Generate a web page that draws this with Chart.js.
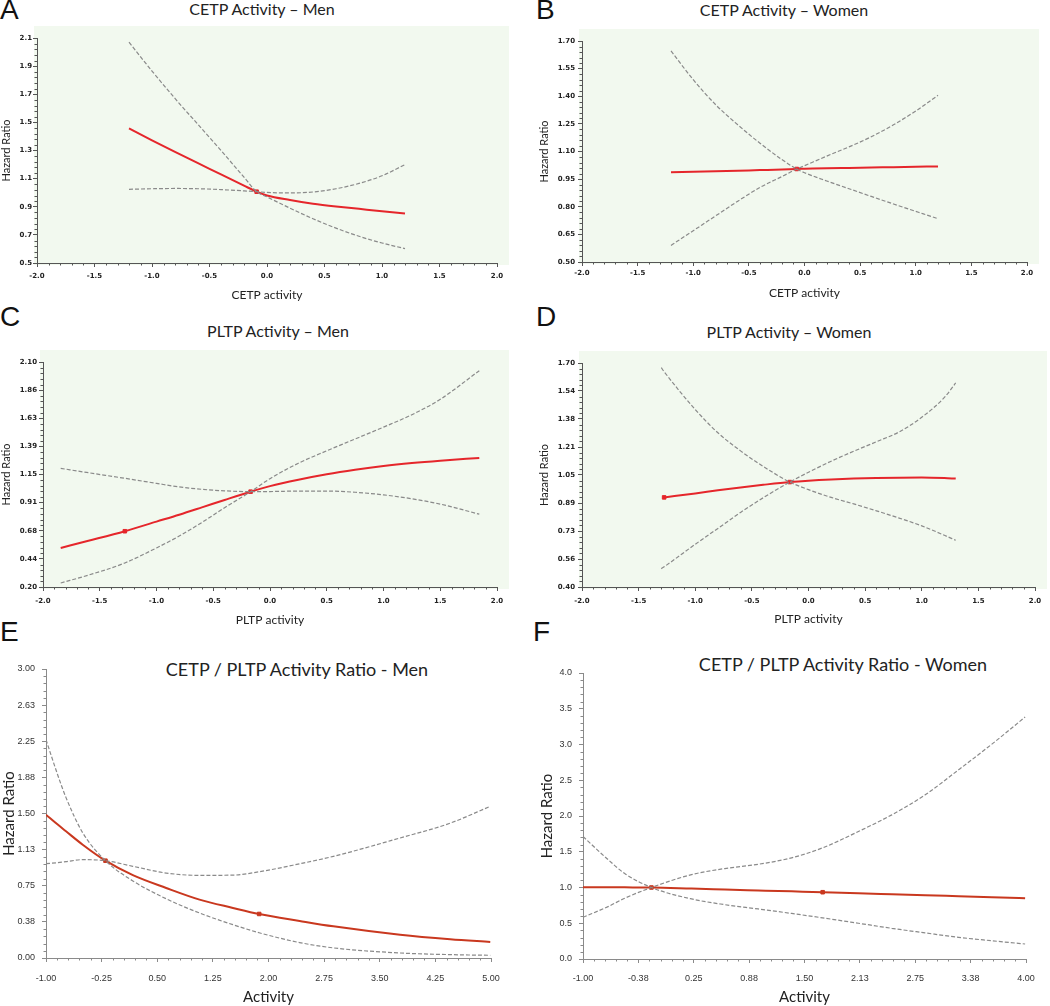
<!DOCTYPE html>
<html lang="en">
<head>
<meta charset="UTF-8">
<title>CETP / PLTP activity and hazard ratio</title>
<script src="https://cdn.jsdelivr.net/npm/chart.js"></script>
<style>
  body { margin: 0; background: #fff; width: 1050px; height: 1006px; position: relative; overflow: hidden; }
  canvas { position: absolute; }
  .letter { position: absolute; font-family: "Liberation Sans", Arial, sans-serif; font-size: 28px; line-height: 1; color: #111; }
  .title { position: absolute; transform: translateX(-50%); white-space: nowrap; font-family: Lato, "Open Sans", sans-serif; line-height: 1; color: #222; }
</style>
</head>
<body>

<div class="letter" style="left:0px;top:-4px">A</div>
<div class="letter" style="left:536px;top:-4px">B</div>
<div class="letter" style="left:0px;top:303px">C</div>
<div class="letter" style="left:536px;top:303px">D</div>
<div class="letter" style="left:0px;top:618px">E</div>
<div class="letter" style="left:533px;top:618px">F</div>

<div class="title" style="left:262px;top:1px;font-size:16px">CETP Activity – Men</div>
<div class="title" style="left:784px;top:2px;font-size:16px">CETP Activity – Women</div>
<div class="title" style="left:278px;top:323px;font-size:16px">PLTP Activity – Men</div>
<div class="title" style="left:789px;top:324px;font-size:16px">PLTP Activity – Women</div>
<div class="title" style="left:297px;top:660px;font-size:18px">CETP / PLTP Activity Ratio - Men</div>
<div class="title" style="left:843px;top:655px;font-size:18px">CETP / PLTP Activity Ratio - Women</div>

<canvas id="chartA" width="525" height="310" style="left:0px;top:0px"></canvas>
<canvas id="chartB" width="525" height="310" style="left:525px;top:0px"></canvas>
<canvas id="chartC" width="525" height="320" style="left:0px;top:310px"></canvas>
<canvas id="chartD" width="525" height="320" style="left:525px;top:310px"></canvas>
<canvas id="chartE" width="525" height="376" style="left:0px;top:630px"></canvas>
<canvas id="chartF" width="525" height="376" style="left:525px;top:630px"></canvas>

<script>
// ---- A: CETP activity, men ----
var aX     = [-1.2, -1.0, -0.8, -0.6, -0.4, -0.2, -0.09, 0.0, 0.2, 0.4, 0.6, 0.8, 1.0, 1.2];
var aHR    = [1.457, 1.372, 1.29, 1.21, 1.13, 1.05, 1.007, 0.98, 0.948, 0.922, 0.902, 0.885, 0.868, 0.852];
var aCI1   = [2.07, 1.865, 1.67, 1.485, 1.30, 1.11, 1.007, 0.97, 0.89, 0.815, 0.748, 0.69, 0.642, 0.602];
var aCI2   = [1.024, 1.028, 1.03, 1.028, 1.022, 1.013, 1.007, 1.002, 0.998, 1.005, 1.028, 1.066, 1.12, 1.20];
var aRefX  = [-0.09];
var aRefY  = [1.007];
var aXTicks = [-2, -1.5, -1, -0.5, 0, 0.5, 1, 1.5, 2];
var aXLabels = ['-2.0', '-1.5', '-1.0', '-0.5', '0.0', '0.5', '1.0', '1.5', '2.0'];
var aYTicks = [0.5, 0.7, 0.9, 1.1, 1.3, 1.5, 1.7, 1.9, 2.1];
var aYLabels = ['0.5', '0.7', '0.9', '1.1', '1.3', '1.5', '1.7', '1.9', '2.1'];

// ---- B: CETP activity, women ----
var bX     = [-1.2, -1.0, -0.8, -0.6, -0.4, -0.2, -0.07, 0.0, 0.2, 0.4, 0.6, 0.8, 1.0, 1.2];
var bHR    = [0.987, 0.99, 0.993, 0.996, 0.999, 1.002, 1.005, 1.006, 1.009, 1.011, 1.013, 1.015, 1.017, 1.019];
var bCI1   = [1.646, 1.49, 1.355, 1.245, 1.145, 1.055, 1.005, 0.985, 0.94, 0.898, 0.856, 0.815, 0.775, 0.735];
var bCI2   = [0.59, 0.67, 0.75, 0.83, 0.905, 0.965, 1.005, 1.023, 1.075, 1.125, 1.18, 1.245, 1.32, 1.405];
var bRefX  = [-0.07];
var bRefY  = [1.005];
var bXTicks = [-2, -1.5, -1, -0.5, 0, 0.5, 1, 1.5, 2];
var bXLabels = ['-2.0', '-1.5', '-1.0', '-0.5', '0.0', '0.5', '1.0', '1.5', '2.0'];
var bYTicks = [0.5, 0.65, 0.8, 0.95, 1.1, 1.25, 1.4, 1.55, 1.7];
var bYLabels = ['0.50', '0.65', '0.80', '0.95', '1.10', '1.25', '1.40', '1.55', '1.70'];

// ---- C: PLTP activity, men ----
var cX     = [-1.844, -1.6, -1.279, -1.0, -0.8, -0.6, -0.4, -0.171, 0.0, 0.25, 0.5, 0.75, 1.0, 1.25, 1.5, 1.844];
var cHR    = [0.53, 0.59, 0.671, 0.752, 0.81, 0.872, 0.935, 1.005, 1.052, 1.106, 1.152, 1.19, 1.222, 1.247, 1.267, 1.29];
var cCI1   = [0.234, 0.30, 0.403, 0.53, 0.63, 0.745, 0.87, 1.005, 1.115, 1.245, 1.35, 1.45, 1.55, 1.655, 1.785, 2.027];
var cCI2   = [1.202, 1.165, 1.118, 1.075, 1.045, 1.025, 1.012, 1.005, 1.006, 1.01, 1.01, 1.0, 0.978, 0.945, 0.90, 0.815];
var cRefX  = [-1.279, -0.171];
var cRefY  = [0.671, 1.005];
var cXTicks = [-2, -1.5, -1, -0.5, 0, 0.5, 1, 1.5, 2];
var cXLabels = ['-2.0', '-1.5', '-1.0', '-0.5', '0.0', '0.5', '1.0', '1.5', '2.0'];
var cYTicks = [0.2, 0.4375, 0.675, 0.9125, 1.15, 1.3875, 1.625, 1.8625, 2.1];
var cYLabels = ['0.20', '0.44', '0.68', '0.91', '1.15', '1.39', '1.63', '1.86', '2.10'];

// ---- D: PLTP activity, women ----
var dX     = [-1.3, -1.275, -1.0, -0.8, -0.6, -0.4, -0.165, 0.0, 0.2, 0.4, 0.6, 0.8, 1.0, 1.2, 1.3];
var dHR    = [null, 0.92, 0.943, 0.961, 0.978, 0.993, 1.009, 1.017, 1.024, 1.029, 1.032, 1.034, 1.035, 1.032, 1.029];
var dCI1   = [1.673, 1.65, 1.43, 1.295, 1.19, 1.10, 1.009, 0.965, 0.92, 0.882, 0.842, 0.80, 0.755, 0.70, 0.671];
var dCI2   = [0.506, 0.517, 0.648, 0.74, 0.833, 0.918, 1.009, 1.066, 1.13, 1.188, 1.243, 1.30, 1.385, 1.50, 1.584];
var dRefX  = [-1.275, -0.165];
var dRefY  = [0.92, 1.009];
var dXTicks = [-2, -1.5, -1, -0.5, 0, 0.5, 1, 1.5, 2];
var dXLabels = ['-2.0', '-1.5', '-1.0', '-0.5', '0.0', '0.5', '1.0', '1.5', '2.0'];
var dYTicks = [0.4, 0.5625, 0.725, 0.8875, 1.05, 1.2125, 1.375, 1.5375, 1.7];
var dYLabels = ['0.40', '0.56', '0.73', '0.89', '1.05', '1.21', '1.38', '1.54', '1.70'];

// ---- E: CETP / PLTP activity ratio, men ----
var eX     = [-1.0, -0.842, -0.73, -0.505, -0.198, 0.171, 0.62, 1.07, 1.52, 1.874, 2.42, 2.874, 3.775, 4.45, 4.99];
var eHR    = [1.488, 1.385, 1.315, 1.176, 1.01, 0.86, 0.727, 0.606, 0.52, 0.457, 0.385, 0.329, 0.242, 0.195, 0.166];
var eCI1   = [2.266, 1.90, 1.665, 1.30, 1.01, 0.80, 0.615, 0.467, 0.346, 0.262, 0.16, 0.105, 0.052, 0.035, 0.028];
var eCI2   = [0.979, 0.99, 1.0, 1.021, 1.01, 0.952, 0.882, 0.858, 0.86, 0.895, 0.978, 1.055, 1.246, 1.40, 1.574];
var eRefX  = [-0.198, 1.874];
var eRefY  = [1.01, 0.457];
var eXTicks = [-1, -0.25, 0.5, 1.25, 2, 2.75, 3.5, 4.25, 5];
var eXLabels = ['-1.00', '-0.25', '0.50', '1.25', '2.00', '2.75', '3.50', '4.25', '5.00'];
var eYTicks = [0, 0.375, 0.75, 1.125, 1.5, 1.875, 2.25, 2.625, 3];
var eYLabels = ['0.00', '0.38', '0.75', '1.13', '1.50', '1.88', '2.25', '2.63', '3.00'];

// ---- F: CETP / PLTP activity ratio, women ----
var fX     = [-1.0, -0.717, -0.529, -0.228, 0.225, 0.601, 0.978, 1.355, 1.705, 2.108, 2.485, 2.862, 3.239, 3.615, 3.99];
var fHR    = [1.004, 1.003, 1.002, 1.0, 0.985, 0.972, 0.959, 0.946, 0.934, 0.92, 0.906, 0.892, 0.878, 0.864, 0.85];
var fCI1   = [1.713, 1.39, 1.195, 1.0, 0.84, 0.76, 0.70, 0.637, 0.575, 0.5, 0.429, 0.365, 0.303, 0.255, 0.21];
var fCI2   = [0.583, 0.733, 0.85, 1.0, 1.18, 1.265, 1.325, 1.415, 1.555, 1.783, 2.016, 2.296, 2.646, 3.005, 3.384];
var fRefX  = [-0.228, 1.705];
var fRefY  = [1.0, 0.934];
var fXTicks = [-1, -0.375, 0.25, 0.875, 1.5, 2.125, 2.75, 3.375, 4];
var fXLabels = ['-1.00', '-0.38', '0.25', '0.88', '1.50', '2.13', '2.75', '3.38', '4.00'];
var fYTicks = [0, 0.5, 1, 1.5, 2, 2.5, 3, 3.5, 4];
var fYLabels = ['0.0', '0.5', '1.0', '1.5', '2.0', '2.5', '3.0', '3.5', '4.0'];

// light green plot background (panels A-D)
var plotBg = {
    id: 'plotBg',
    beforeDraw: function (chart, args, opts) {
        if (!opts.color) return;
        var a = chart.chartArea, ctx = chart.ctx;
        ctx.save();
        ctx.fillStyle = opts.color;
        ctx.fillRect(a.left - 3, a.top - 12, a.right - a.left + 15, a.bottom - a.top + 14);
        ctx.restore();
    }
};

// small minor tick marks between the major ticks
var minorTicks = {
    id: 'minorTicks',
    afterDraw: function (chart, args, opts) {
        var ctx = chart.ctx;
        ctx.save();
        ctx.strokeStyle = opts.color;
        ctx.lineWidth = 1;
        ['x', 'y'].forEach(function (id) {
            var s = chart.scales[id];
            var vals = s.ticks.map(function (t) { return t.value; });
            for (var i = 0; i < vals.length - 1; i++) {
                var step = (vals[i + 1] - vals[i]) / opts.sub;
                for (var k = 1; k < opts.sub; k++) {
                    var p = Math.round(s.getPixelForValue(vals[i] + k * step)) + 0.5;
                    ctx.beginPath();
                    if (id === 'x') { ctx.moveTo(p, s.top); ctx.lineTo(p, s.top + 2.5); }
                    else { ctx.moveTo(s.right, p); ctx.lineTo(s.right - 2.5, p); }
                    ctx.stroke();
                }
            }
        });
        ctx.restore();
    }
};

function pts(xs, ys) {
    return xs.map(function (x, i) { return { x: x, y: ys[i] }; });
}

function makePanel(id, p) {
    var ciColor = '#8a8a8a';
    new Chart(document.getElementById(id), {
        type: 'line',
        plugins: [plotBg, minorTicks],
        data: {
            datasets: [
                { data: pts(p.x, p.ci1), borderColor: ciColor, borderWidth: 1.2, borderDash: [4, 2], pointRadius: 0, cubicInterpolationMode: 'monotone' },
                { data: pts(p.x, p.ci2), borderColor: ciColor, borderWidth: 1.2, borderDash: [4, 2], pointRadius: 0, cubicInterpolationMode: 'monotone' },
                { data: pts(p.x, p.hr), borderColor: p.red, borderWidth: 2, pointRadius: 0, cubicInterpolationMode: 'monotone' },
                { data: pts(p.refX, p.refY), showLine: false, pointStyle: 'rect', pointRadius: 2.5, backgroundColor: p.red, borderColor: p.red }
            ]
        },
        options: {
            responsive: false,
            animation: false,
            layout: { padding: { top: p.top, right: p.right, left: 0, bottom: 0 } },
            plugins: {
                legend: { display: false },
                tooltip: { enabled: false },
                plotBg: { color: p.bg },
                minorTicks: { color: p.axis, sub: 5 }
            },
            scales: {
                x: {
                    type: 'linear',
                    min: p.xTicks[0],
                    max: p.xTicks[p.xTicks.length - 1],
                    afterBuildTicks: function (s) { s.ticks = p.xTicks.map(function (v) { return { value: v }; }); },
                    afterFit: function (s) { s.height = p.xh; },
                    grid: { drawOnChartArea: false, tickLength: 4, color: p.axis },
                    border: { color: p.axis },
                    ticks: {
                        autoSkip: false, maxRotation: 0, padding: p.xPad, color: p.tickColor, font: p.tickFont,
                        callback: function (v, i) { return p.xLabels[i]; }
                    },
                    title: { display: true, text: p.xTitle, color: '#222', font: p.xTitleFont, padding: { top: 0, bottom: p.xTitlePad } }
                },
                y: {
                    type: 'linear',
                    min: p.yTicks[0],
                    max: p.yTicks[p.yTicks.length - 1],
                    afterBuildTicks: function (s) { s.ticks = p.yTicks.map(function (v) { return { value: v }; }); },
                    afterFit: function (s) { s.width = p.yw; },
                    grid: { drawOnChartArea: false, tickLength: 4, color: p.axis },
                    border: { color: p.axis },
                    ticks: {
                        autoSkip: false, padding: p.yPad, color: p.tickColor, font: p.tickFont,
                        callback: function (v, i) { return p.yLabels[i]; }
                    },
                    title: { display: true, text: 'Hazard Ratio', color: '#222', font: p.yTitleFont, padding: { top: p.yTitlePad, bottom: 0 } }
                }
            }
        }
    });
}

var smallTick = { family: '"DejaVu Sans", sans-serif', size: 7, weight: 'bold', lineHeight: 1.2 };
var bigTick = { family: '"Liberation Sans", Arial, sans-serif', size: 9, lineHeight: 1.2 };
var smallTitle = { family: 'Lato, "Open Sans", sans-serif', size: 12, lineHeight: 1.2 };
var smallYTitle = { family: 'Lato, "Open Sans", sans-serif', size: 11, lineHeight: 1.2 };
var bigTitle = { family: 'Lato, "Open Sans", sans-serif', size: 15, lineHeight: 1.2 };

var redTop = '#e5262b';
var redBottom = '#c9381f';
var green = '#f2f9ef';

makePanel('chartA', {
    x: aX, hr: aHR, ci1: aCI1, ci2: aCI2, refX: aRefX, refY: aRefY,
    xTicks: aXTicks, xLabels: aXLabels, yTicks: aYTicks, yLabels: aYLabels,
    red: redTop, bg: green, axis: '#555', tickColor: '#222', tickFont: smallTick,
    top: 38, right: 28, yw: 37, xh: 47, xPad: 5, yPad: 1,
    xTitle: 'CETP activity', xTitleFont: smallTitle, xTitlePad: 8, yTitleFont: smallYTitle, yTitlePad: 0
});
makePanel('chartB', {
    x: bX, hr: bHR, ci1: bCI1, ci2: bCI2, refX: bRefX, refY: bRefY,
    xTicks: bXTicks, xLabels: bXLabels, yTicks: bYTicks, yLabels: bYLabels,
    red: redTop, bg: green, axis: '#555', tickColor: '#222', tickFont: smallTick,
    top: 41, right: 23, yw: 57, xh: 48, xPad: 3, yPad: 3,
    xTitle: 'CETP activity', xTitleFont: smallTitle, xTitlePad: 10, yTitleFont: smallYTitle, yTitlePad: 13
});
makePanel('chartC', {
    x: cX, hr: cHR, ci1: cCI1, ci2: cCI2, refX: cRefX, refY: cRefY,
    xTicks: cXTicks, xLabels: cXLabels, yTicks: cYTicks, yLabels: cYLabels,
    red: redTop, bg: green, axis: '#555', tickColor: '#222', tickFont: smallTick,
    top: 52, right: 28, yw: 43, xh: 43, xPad: 6, yPad: 2,
    xTitle: 'PLTP activity', xTitleFont: smallTitle, xTitlePad: 3, yTitleFont: smallYTitle, yTitlePad: 0
});
makePanel('chartD', {
    x: dX, hr: dHR, ci1: dCI1, ci2: dCI2, refX: dRefX, refY: dRefY,
    xTicks: dXTicks, xLabels: dXLabels, yTicks: dYTicks, yLabels: dYLabels,
    red: redTop, bg: green, axis: '#555', tickColor: '#222', tickFont: smallTick,
    top: 53, right: 15, yw: 57, xh: 43, xPad: 6, yPad: 3,
    xTitle: 'PLTP activity', xTitleFont: smallTitle, xTitlePad: 4, yTitleFont: smallYTitle, yTitlePad: 13
});
makePanel('chartE', {
    x: eX, hr: eHR, ci1: eCI1, ci2: eCI2, refX: eRefX, refY: eRefY,
    xTicks: eXTicks, xLabels: eXLabels, yTicks: eYTicks, yLabels: eYLabels,
    red: redBottom, bg: null, axis: '#8a8a8a', tickColor: '#333', tickFont: bigTick,
    top: 39, right: 34, yw: 46, xh: 48, xPad: 11, yPad: 7,
    xTitle: 'Activity', xTitleFont: bigTitle, xTitlePad: 0, yTitleFont: bigTitle, yTitlePad: 0
});
makePanel('chartF', {
    x: fX, hr: fHR, ci1: fCI1, ci2: fCI2, refX: fRefX, refY: fRefY,
    xTicks: fXTicks, xLabels: fXLabels, yTicks: fYTicks, yLabels: fYLabels,
    red: redBottom, bg: null, axis: '#8a8a8a', tickColor: '#333', tickFont: bigTick,
    top: 43, right: 24, yw: 58, xh: 47, xPad: 10, yPad: 7,
    xTitle: 'Activity', xTitleFont: bigTitle, xTitlePad: 0, yTitleFont: bigTitle, yTitlePad: 13
});
</script>

</body>
</html>
